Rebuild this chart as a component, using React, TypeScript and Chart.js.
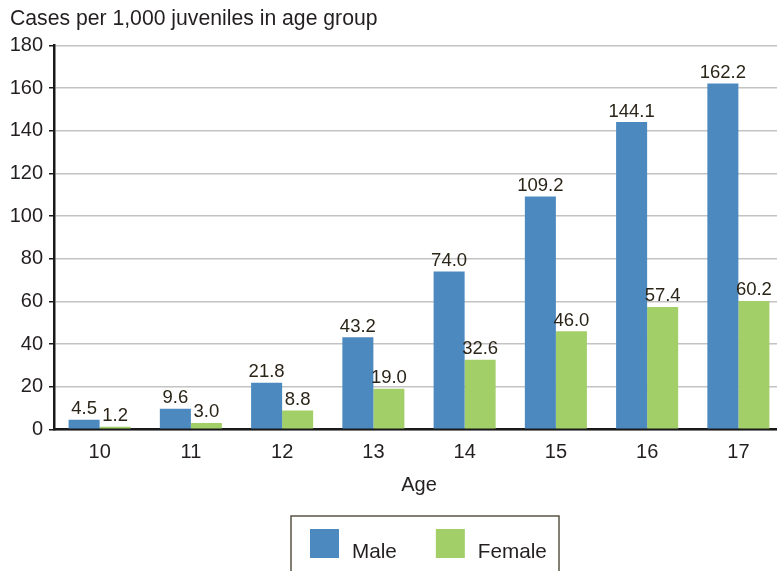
import React, { useEffect, useRef } from "react";
import { Chart, registerables } from "chart.js";

Chart.register(...registerables);

const FONT = '"Liberation Sans", Arial, Helvetica, sans-serif';
const TEXT = "#231f20";

const chartTitle = "Cases per 1,000 juveniles in age group";
const xTitle = "Age";
const ages = ["10", "11", "12", "13", "14", "15", "16", "17"];
const seriesNames = ["Male", "Female"];
const seriesColors = ["#4b89bf", "#a3cf69"];
const maleCases = [4.5, 9.6, 21.8, 43.2, 74.0, 109.2, 144.1, 162.2];
const femaleCases = [1.2, 3.0, 8.8, 19.0, 32.6, 46.0, 57.4, 60.2];
const yMin = 0;
const yMax = 180;
const yStep = 20;

const barLabels = {
  id: "barLabels",
  afterDatasetsDraw(chart: any) {
    const ctx = chart.ctx;
    ctx.save();
    ctx.font = `18.5px ${FONT}`;
    ctx.fillStyle = "#2b2519";
    ctx.textAlign = "center";
    ctx.textBaseline = "alphabetic";
    chart.data.datasets.forEach((ds: any, di: number) => {
      const meta = chart.getDatasetMeta(di);
      meta.data.forEach((el: any, i: number) => {
        const txt = Number(ds.data[i]).toFixed(1);
        ctx.fillText(txt, el.x, el.y - 5.5);
      });
    });
    ctx.restore();
  },
};

const boxLegend = {
  id: "boxLegend",
  afterDraw(chart: any) {
    const ctx = chart.ctx;
    ctx.save();
    ctx.strokeStyle = "#5b5446";
    ctx.lineWidth = 1.5;
    ctx.strokeRect(291, 516, 268, 90);
    ctx.font = `20.7px ${FONT}`;
    ctx.textBaseline = "alphabetic";
    ctx.textAlign = "left";
    let x = 310;
    chart.data.datasets.forEach((ds: any) => {
      ctx.fillStyle = ds.backgroundColor;
      ctx.fillRect(x, 529, 29, 29);
      x += 29 + 13;
      ctx.fillStyle = TEXT;
      ctx.fillText(ds.label, x, 557.5);
      x += ctx.measureText(ds.label).width + 39;
    });
    ctx.restore();
  },
};

export default function App() {
  const ref = useRef<HTMLCanvasElement | null>(null);

  useEffect(() => {
    if (!ref.current) return;
    Chart.defaults.font.family = FONT;
    const chart = new Chart(ref.current, {
      type: "bar",
      data: {
        labels: ages,
        datasets: [
          {
            label: seriesNames[0],
            data: maleCases,
            backgroundColor: seriesColors[0],
            borderWidth: 0,
            categoryPercentage: 0.68,
            barPercentage: 1.0,
          },
          {
            label: seriesNames[1],
            data: femaleCases,
            backgroundColor: seriesColors[1],
            borderWidth: 0,
            categoryPercentage: 0.68,
            barPercentage: 1.0,
          },
        ],
      },
      options: {
        animation: false,
        responsive: true,
        maintainAspectRatio: false,
        layout: { padding: { left: 10, right: 0, top: 0, bottom: 74 } },
        plugins: {
          legend: { display: false },
          tooltip: { enabled: false },
          title: {
            display: true,
            text: chartTitle,
            align: "start",
            color: TEXT,
            font: { size: 21.2, weight: "normal", family: FONT },
            padding: { top: 6, bottom: 14.1 },
          },
        },
        scales: {
          x: {
            grid: { display: false, drawTicks: false },
            border: { display: true, color: "#1a1a1a", width: 2.5 },
            ticks: { color: TEXT, font: { size: 20, family: FONT }, padding: 11 },
            title: {
              display: true,
              text: xTitle,
              color: TEXT,
              font: { size: 20, family: FONT },
              padding: { top: 7, bottom: 0 },
            },
            afterFit: (s: any) => {
              s.height = 67.7;
            },
          },
          y: {
            min: yMin,
            max: yMax,
            ticks: { stepSize: yStep, color: TEXT, font: { size: 20, family: FONT }, padding: 6 },
            grid: {
              color: "#c3c3c3",
              lineWidth: 1.5,
              tickLength: 5,
              tickColor: "#1a1a1a",
              tickWidth: 1.5,
            },
            border: { color: "#1a1a1a", width: 2.5 },
            afterFit: (s: any) => {
              s.width = 44;
            },
          },
        },
      },
      plugins: [barLabels, boxLegend],
    } as any);
    return () => chart.destroy();
  }, []);

  return (
    <div style={{ position: "fixed", left: 0, top: 0, width: 777, height: 571, background: "#fff", overflow: "hidden" }}>
      <div style={{ position: "absolute", left: 0, top: 0, width: 784, height: 571 }}>
        <canvas ref={ref} />
      </div>
    </div>
  );
}
